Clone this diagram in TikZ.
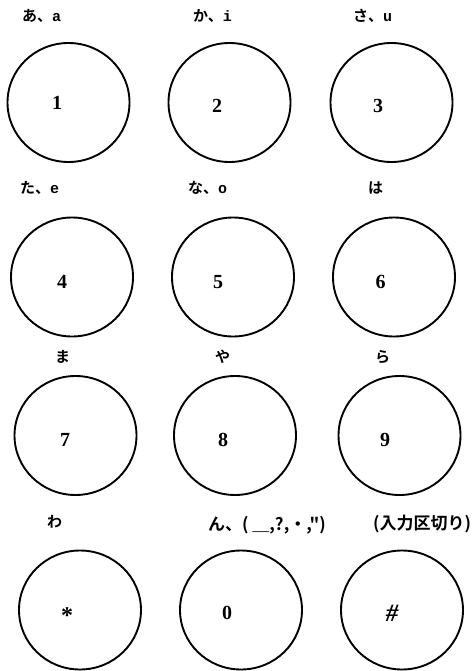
\documentclass[tikz,border=0pt]{standalone}
\usepackage{fontspec}
\usetikzlibrary{shapes.geometric}
\newfontfamily\jp{Noto Sans CJK JP}[BoldFont=* Bold]
\newfontfamily\latmono{Liberation Mono}
\newfontfamily\digfont{Liberation Serif}
\tikzset{
  key/.style={draw, line width=1.9pt, ellipse, minimum width=122pt, minimum height=119pt, inner sep=0pt},
  num/.style={font=\fontsize{20}{22}\selectfont\digfont\bfseries, inner sep=0pt},
  lab/.style={font=\fontsize{15}{16}\selectfont\jp\bfseries, anchor=west, inner sep=0pt},
  labbig/.style={lab, font=\fontsize{17}{18}\selectfont\jp\bfseries},
}
\newcommand{\lt}[1]{{\latmono\bfseries #1}}
\begin{document}
\begin{tikzpicture}[x=1pt,y=-1pt]
\useasboundingbox (0,0) rectangle (475,671);
% labels
\node[lab] (la) at (22,16) {あ、\lt{a}};
\node[lab] (lk) at (193,16) {か、\lt{i}};
\node[lab] (ls) at (353,16) {さ、\lt{u}};
\node[lab] (lt) at (20,188) {た、\lt{e}};
\node[lab] (ln) at (188,188) {な、\lt{o}};
\node[lab] (lh) at (368,188) {は};
\node[lab] (lm) at (55,357) {ま};
\node[lab] (ly) at (215,357) {や};
\node[lab] (lr) at (375,357) {ら};
\node[lab] (lw) at (47,522) {わ};
\node[labbig] (lnn) at (208,525) {ん、( ＿,?,・,")};
\node[labbig] (lsep) at (373,524) {(入力区切り)};
% keys
\node[key] (c1) at (68.5,102.5) {};
\node[key] (c2) at (229.5,102.5) {};
\node[key] (c3) at (391.5,102.5) {};
\node[key] (c4) at (72,277) {};
\node[key] (c5) at (233,277) {};
\node[key] (c6) at (394,277) {};
\node[key] (c7) at (75.5,435.5) {};
\node[key] (c8) at (235,435.5) {};
\node[key] (c9) at (399.5,435.5) {};
\node[key] (cs) at (80,610) {};
\node[key] (c0) at (241,610) {};
\node[key] (ch) at (402,610) {};
% numbers
\node[num] (n1) at (57,103) {1};
\node[num] (n2) at (217,105.5) {2};
\node[num] (n3) at (378,105.5) {3};
\node[num] (n4) at (62,282) {4};
\node[num] (n5) at (218,282) {5};
\node[num] (n6) at (380.5,282) {6};
\node[num] (n7) at (65,440) {7};
\node[num] (n8) at (223,440) {8};
\node[num] (n9) at (385,440) {9};
\node[num, font=\fontsize{24}{24}\selectfont\digfont\bfseries] (ns) at (67,616) {*};
\node[num] (n0) at (227,613) {0};
\node[num, font=\fontsize{25}{25}\selectfont\digfont\bfseries\itshape] (nh) at (392,613) {\#};
\end{tikzpicture}
\end{document}
